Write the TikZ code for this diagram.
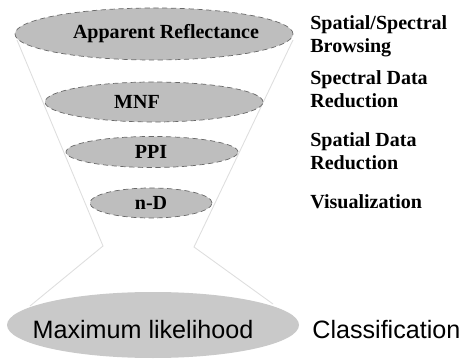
\documentclass[tikz,border=0pt]{standalone}
\usepackage{fontspec}
\setmainfont{Liberation Serif}
\newfontfamily\sansfont{Liberation Sans}
\usetikzlibrary{shapes.geometric}
\definecolor{stepgray}{RGB}{190,190,190}
\definecolor{mlgray}{RGB}{201,201,201}
\definecolor{rimgray}{RGB}{105,105,105}
\definecolor{funnelgray}{RGB}{222,222,222}
\tikzset{
  stage/.style={ellipse, fill=stepgray, draw=rimgray, densely dashed, line width=0.4pt, inner sep=0pt},
  stagetext/.style={font=\bfseries\fontsize{11.4}{13}\selectfont, inner sep=0pt},
  sidetext/.style={font=\bfseries\fontsize{11.4}{13}\selectfont, align=left, anchor=west, inner sep=0pt},
  funnel/.style={draw=funnelgray, line width=0.5pt}
}

\begin{document}
\begin{tikzpicture}
			%%%%% START %%%%%
			\useasboundingbox (0, 0) rectangle (9.3, 7.16);
			
			% funnel outline
			\coordinate (tl) at (0.34, 6.36);
			\coordinate (nl) at (2.06, 2.24);
			\coordinate (bl) at (0.60, 1.04);
			\coordinate (tr) at (5.86, 6.36);
			\coordinate (nr) at (3.88, 2.22);
			\coordinate (br) at (5.46, 1.08);
			\draw[funnel] (tl) -- (nl) -- (bl);
			\draw[funnel] (tr) -- (nr) -- (br);
			
			% processing steps
			\node[stage, minimum width=5.56cm, minimum height=1.04cm] (refl) at (3.08, 6.48) {};
			\node[stagetext] (refltext) at (3.32, 6.48) {Apparent Reflectance};
			
			\node[stage, minimum width=4.36cm, minimum height=0.8cm] (mnf) at (3.08, 5.12) {};
			\node[stagetext] (mnftext) at (2.74, 5.12) {MNF};
			
			\node[stage, minimum width=3.44cm, minimum height=0.62cm] (ppi) at (3.04, 4.12) {};
			\node[stagetext] (ppitext) at (3.02, 4.12) {PPI};
			
			\node[stage, minimum width=2.44cm, minimum height=0.6cm] (nd) at (3.02, 3.10) {};
			\node[stagetext] (ndtext) at (3.02, 3.10) {n-D};
			
			% final step
			\node[ellipse, fill=mlgray, inner sep=0pt, minimum width=5.84cm, minimum height=1.32cm] (ml) at (3.06, 0.66) {};
			\node[font=\sansfont\fontsize{14.3}{16}\selectfont, inner sep=0pt] (mltext) at (2.86, 0.56) {Maximum likelihood};
			
			% step descriptions
			\node[sidetext] (browse) at (6.2, 6.43) {Spatial/Spectral\\Browsing};
			\node[sidetext] (specred) at (6.2, 5.37) {Spectral Data\\Reduction};
			\node[sidetext] (spatred) at (6.2, 4.13) {Spatial Data\\Reduction};
			\node[sidetext] (visual) at (6.2, 3.12) {Visualization};
			\node[font=\sansfont\fontsize{14.3}{16}\selectfont, anchor=west, inner sep=0pt] (classif) at (6.24, 0.56) {Classification};
			%%%%% END %%%%%
		\end{tikzpicture}
\end{document}
